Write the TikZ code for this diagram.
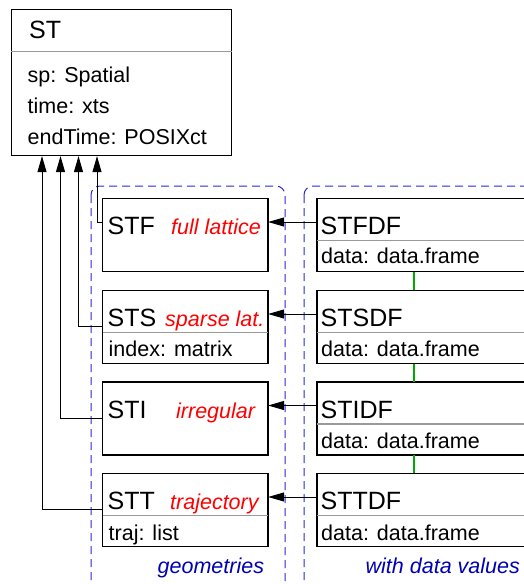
\documentclass[tikz,border=0pt]{standalone}
\usepackage{fontspec}
\setmainfont{Liberation Sans}
\usetikzlibrary{arrows.meta,calc}
\definecolor{grpblue}{RGB}{40,40,210}
\definecolor{lblblue}{RGB}{0,0,180}
\definecolor{sepgray}{gray}{0.6}
\definecolor{lnkgreen}{RGB}{0,170,0}
\tikzset{
  umlbox/.style={draw=black, line width=1.1pt, fill=white, rectangle, inner sep=0pt, anchor=north west},
  lbox/.style={umlbox, minimum width=165pt, minimum height=72.5pt},
  rbox/.style={umlbox, minimum width=214pt, minimum height=72.5pt},
  ttl/.style={anchor=base west, inner sep=0pt, font=\fontsize{25}{30}\selectfont},
  attr/.style={anchor=base west, inner sep=0pt, font=\fontsize{21.5}{26}\selectfont},
  tag/.style={anchor=base west, inner sep=0pt, text=red, font=\fontsize{21.5}{26}\selectfont\itshape},
  grplbl/.style={anchor=base west, inner sep=0pt, text=lblblue, font=\fontsize{21.5}{26}\selectfont\itshape},
  sepline/.style={draw=sepgray, line width=1.1pt},
  conn/.style={draw=black, line width=1pt},
  inh/.style={conn, -{Triangle[length=16pt,width=9pt]}},
  grp/.style={draw=grpblue, line width=1pt, dash pattern=on 8pt off 5pt, rounded corners=9pt},
  link/.style={draw=lnkgreen, line width=1.3pt}
}
\begin{document}
\begin{tikzpicture}[x=1pt,y=-1pt]
\useasboundingbox[fill=white] (0,0) rectangle (524,584);
% groups
\draw[grp] (91,186) rectangle (285,594);
\draw[grp] (304,186) rectangle (545,594);
% ST
\node[umlbox, minimum width=220pt, minimum height=146pt] (st) at (11,9) {};
\draw[sepline] ([yshift=-42.5pt]st.north west) coordinate (stsa) -- ([yshift=-42.5pt]st.north east) coordinate (stsb);
\node[ttl] (stt1) at (29,38) {ST};
\node[attr] (sta1) at (27.5,82.7) {sp: Spatial};
\node[attr] (sta2) at (27.5,113.3) {time: xts};
\node[attr] (sta3) at (27.5,144) {endTime: POSIXct};
% left boxes
\node[lbox] (stf) at (102,198) {};
\node[lbox] (sts) at (102,290) {};
\node[lbox] (sti) at (102,381.5) {};
\node[lbox] (stt) at (102,473) {};
\draw[sepline] ([yshift=-42.5pt]sts.north west) -- ([yshift=-42.5pt]sts.north east);
\draw[sepline] ([yshift=-42.5pt]stt.north west) -- ([yshift=-42.5pt]stt.north east);
\draw[conn] (stf.north west) rectangle (stf.south east);
\draw[conn] (sts.north west) rectangle (sts.south east);
\draw[conn] (sti.north west) rectangle (sti.south east);
\draw[conn] (stt.north west) rectangle (stt.south east);
\node[ttl] (stf-t) at (107.5,234.5) {STF};
\node[tag] (stf-g) at (171,234.5) {full lattice};
\node[ttl] (sts-t) at (107.5,326.5) {STS};
\node[tag] (sts-g) at (165,326.5) {sparse lat.};
\node[attr] (sts-a) at (108.5,356.5) {index: matrix};
\node[ttl] (sti-t) at (107.5,418) {STI};
\node[tag] (sti-g) at (176,418) {irregular};
\node[ttl] (stt-t) at (107.5,509.5) {STT};
\node[tag] (stt-g) at (170,509.5) {trajectory};
\node[attr] (stt-a) at (108.5,540) {traj: list};
% right boxes
\node[rbox] (stfdf) at (316.5,198) {};
\node[rbox] (stsdf) at (316.5,290) {};
\node[rbox] (stidf) at (316.5,381.5) {};
\node[rbox] (sttdf) at (316.5,473) {};
\foreach \b in {stfdf,stsdf,stidf,sttdf}{
  \draw[sepline] ([yshift=-42.5pt]\b.north west) -- ([yshift=-42.5pt]\b.north east);
  \draw[conn] (\b.north west) rectangle (\b.south east);
}
\node[ttl] (stfdf-t) at (320.5,234.5) {STFDF};
\node[attr] (stfdf-a) at (321,263) {data: data.frame};
\node[ttl] (stsdf-t) at (320.5,326.5) {STSDF};
\node[attr] (stsdf-a) at (321,356.5) {data: data.frame};
\node[ttl] (stidf-t) at (320.5,418) {STIDF};
\node[attr] (stidf-a) at (321,448) {data: data.frame};
\node[ttl] (sttdf-t) at (320.5,509.5) {STTDF};
\node[attr] (sttdf-a) at (321,540) {data: data.frame};
% green links
\draw[link] ([xshift=97.5pt]stfdf.south west) -- ([xshift=97.5pt]stsdf.north west);
\draw[link] ([xshift=97.5pt]stsdf.south west) -- ([xshift=97.5pt]stidf.north west);
\draw[link] ([xshift=97.5pt]stidf.south west) -- ([xshift=97.5pt]sttdf.north west);
% right-to-left arrows
\draw[inh] ([yshift=-24pt]stfdf.north west) -- ([yshift=-24pt]stf.north east);
\draw[inh] ([yshift=-24pt]stsdf.north west) -- ([yshift=-24pt]sts.north east);
\draw[inh] ([yshift=-24pt]stidf.north west) -- ([yshift=-24pt]sti.north east);
\draw[inh] ([yshift=-24pt]sttdf.north west) -- ([yshift=-24pt]stt.north east);
% inheritance to ST
\draw[inh] ([yshift=-24pt]stf.north west) -| ([xshift=86pt]st.south west);
\draw[inh] ([yshift=-36pt]sts.north west) -| ([xshift=67.5pt]st.south west);
\draw[inh] ([yshift=-36.5pt]sti.north west) -| ([xshift=49.5pt]st.south west);
\draw[inh] ([yshift=-36pt]stt.north west) -| ([xshift=31pt]st.south west);
% group labels
\node[grplbl] (g1) at (157.5,573) {geometries};
\node[grplbl] (g2) at (365.5,573) {with data values};
\end{tikzpicture}
\end{document}
